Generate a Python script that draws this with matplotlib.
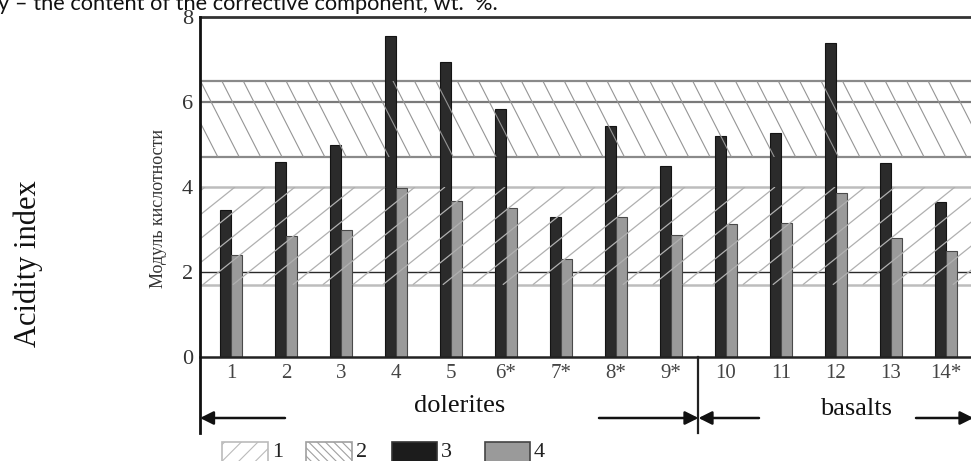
import numpy as np
import matplotlib
matplotlib.use("Agg")
import matplotlib.pyplot as plt
from matplotlib.patches import Rectangle, FancyArrowPatch

# ---------------- data ----------------
categories = ["1", "2", "3", "4", "5", "6*", "7*", "8*", "9*", "10", "11", "12", "13", "14*"]
series3 = [3.46, 4.59, 4.99, 7.55, 6.94, 5.84, 3.29, 5.44, 4.50, 5.20, 5.26, 7.38, 4.56, 3.64]
series4 = [2.40, 2.85, 2.99, 3.97, 3.67, 3.51, 2.31, 3.30, 2.86, 3.13, 3.15, 3.87, 2.81, 2.50]
band1 = (1.7, 4.0)   # range 1 (/ hatch)
band2 = (4.7, 6.5)   # range 2 (\ hatch)
yticks = [0, 2, 4, 6, 8]
group_labels = ["dolerites", "basalts"]
legend_labels = ["1", "2", "3", "4"]

W, H = 971, 461
fig = plt.figure(figsize=(W / 100, H / 100), dpi=100)

def fx(px):
    return px / W

def fy(py):
    return 1 - py / H

ax_l, ax_r, ax_t, ax_b = 200, 971, 17, 357
ax = fig.add_axes([fx(ax_l), fy(ax_b), fx(ax_r - ax_l), (ax_b - ax_t) / H])

x = np.arange(len(categories))
xmin = -0.5636
pxx = 55.0
xmax = xmin + (ax_r - ax_l) / pxx
ax.set_xlim(xmin, xmax)
ax.set_ylim(0, 8)
pxy = (ax_b - ax_t) / 8.0

serif = "Liberation Serif"

# horizontal reference lines
ax.axhline(band2[1], color="#8a8a8a", lw=1.6, zorder=1)
ax.axhline(6.0, color="#7a7a7a", lw=1.6, zorder=1)
ax.axhline(band2[0], color="#8a8a8a", lw=1.6, zorder=1)
ax.axhline(band1[1], color="#bdbdbd", lw=1.8, zorder=1)
ax.axhline(2.0, color="#2a2a2a", lw=1.0, zorder=1)
ax.axhline(band1[0], color="#bdbdbd", lw=1.8, zorder=1)

# bars
bw = 0.2
ax.bar(x - bw / 2, series3, width=bw, color="#2b2b2b", edgecolor="#141414", lw=0.8, zorder=2)
ax.bar(x + bw / 2, series4, width=bw, color="#9a9a9a", edgecolor="#4a4a4a", lw=0.8, zorder=2)

# hatch lines drawn over the bands
def hatch_band(y0, y1, slope_px, spacing_px, color, lw, phase_px=0.0):
    slope = slope_px * pxx / pxy
    dx = spacing_px / pxx
    clip = Rectangle((xmin, y0), xmax - xmin, y1 - y0, transform=ax.transData)
    run = (y1 - y0) / slope
    start = xmin - abs(run) - 1 + phase_px / pxx
    for x0 in np.arange(start, xmax + abs(run) + 1, dx):
        ln, = ax.plot([x0, x0 + run], [y0, y1], color=color, lw=lw, zorder=3,
                      solid_capstyle="butt")
        ln.set_clip_path(clip)

hatch_band(band1[0], band1[1], 0.80, 30.0, "#b0b0b0", 0.9)
hatch_band(band2[0], band2[1], -1.96, 21.4, "#959595", 0.8, phase_px=5)

# axes styling
ax.spines["right"].set_visible(False)
ax.spines["top"].set_color("#333333")
ax.spines["top"].set_linewidth(2.0)
ax.spines["bottom"].set_color("#222222")
ax.spines["bottom"].set_linewidth(1.8)
ax.spines["left"].set_visible(False)
ybelow = (ax_b - 433) / pxy
ax.plot([xmin, xmin], [8, ybelow], color="#111111", lw=2.0, clip_on=False, zorder=5)

ax.set_xticks(x)
ax.set_xticklabels(categories, fontfamily=serif, fontsize=15, color="#444444")
ax.set_yticks(yticks)
ax.set_yticklabels([str(v) for v in yticks], fontfamily=serif, fontsize=16, color="#333333")
ax.tick_params(axis="x", length=0, pad=5)
ax.tick_params(axis="y", length=0, pad=5)

# divider and arrows
xdiv = 8.5
ax.plot([xdiv, xdiv], [0, ybelow], color="#222222", lw=1.6, clip_on=False, zorder=5)
ya = (ax_b - 418) / pxy

def arrow(x_from, x_to):
    a = FancyArrowPatch((x_from, ya), (x_to, ya), arrowstyle="-|>", mutation_scale=20,
                        color="#111111", lw=1.8, clip_on=False, shrinkA=0, shrinkB=0)
    ax.add_patch(a)

arrow((285 - 231) / pxx, xmin)
arrow((599 - 231) / pxx, xdiv)
arrow((759 - 231) / pxx, xdiv)
arrow((916 - 231) / pxx, 13.5)

ax.text((460 - 231) / pxx, (ax_b - 412) / pxy, group_labels[0], ha="center", va="baseline",
        fontfamily=serif, fontsize=19, color="#111111", clip_on=False)
ax.text((856 - 231) / pxx, (ax_b - 415) / pxy, group_labels[1], ha="center", va="baseline",
        fontfamily=serif, fontsize=19, color="#111111", clip_on=False)

# axis titles
fig.text(fx(158), fy(209), "Модуль кислотности", rotation=90, ha="center", va="center",
         fontfamily=serif, fontsize=13, color="#333333")
fig.text(fx(28), fy(264), "Acidity index", rotation=90, ha="center", va="center",
         fontfamily=serif, fontsize=22, color="#111111")

# cropped caption at the very top
fig.text(fx(-2), fy(10), "y \u2013 the content of the corrective component, wt.  %.",
         ha="left", va="baseline", fontfamily="Lato", fontsize=15.7, color="#111111")

# legend
leg_top = 441.7
leg_h = 24
items = [
    dict(x0=222, x1=268, face="white", edge="#bbbbbb", hatch="//"),
    dict(x0=306, x1=352, face="white", edge="#a0a0a0", hatch="\\\\\\\\"),
    dict(x0=392, x1=437, face="#1c1c1c", edge="#333333", hatch=None),
    dict(x0=485, x1=530, face="#9a9a9a", edge="#444444", hatch=None),
]
plt.rcParams["hatch.linewidth"] = 0.8
for it, lab in zip(items, legend_labels):
    r = Rectangle((fx(it["x0"]), fy(leg_top + leg_h)), fx(it["x1"] - it["x0"]), leg_h / H,
                  transform=fig.transFigure, facecolor=it["face"], edgecolor=it["edge"],
                  hatch=it["hatch"], lw=1.2)
    fig.patches.append(r)
    fig.text(fx(it["x1"] + 4), fy(leg_top + 1), lab, ha="left", va="top",
             fontfamily=serif, fontsize=16, color="#222222")

fig.savefig("out.png", dpi=100)
